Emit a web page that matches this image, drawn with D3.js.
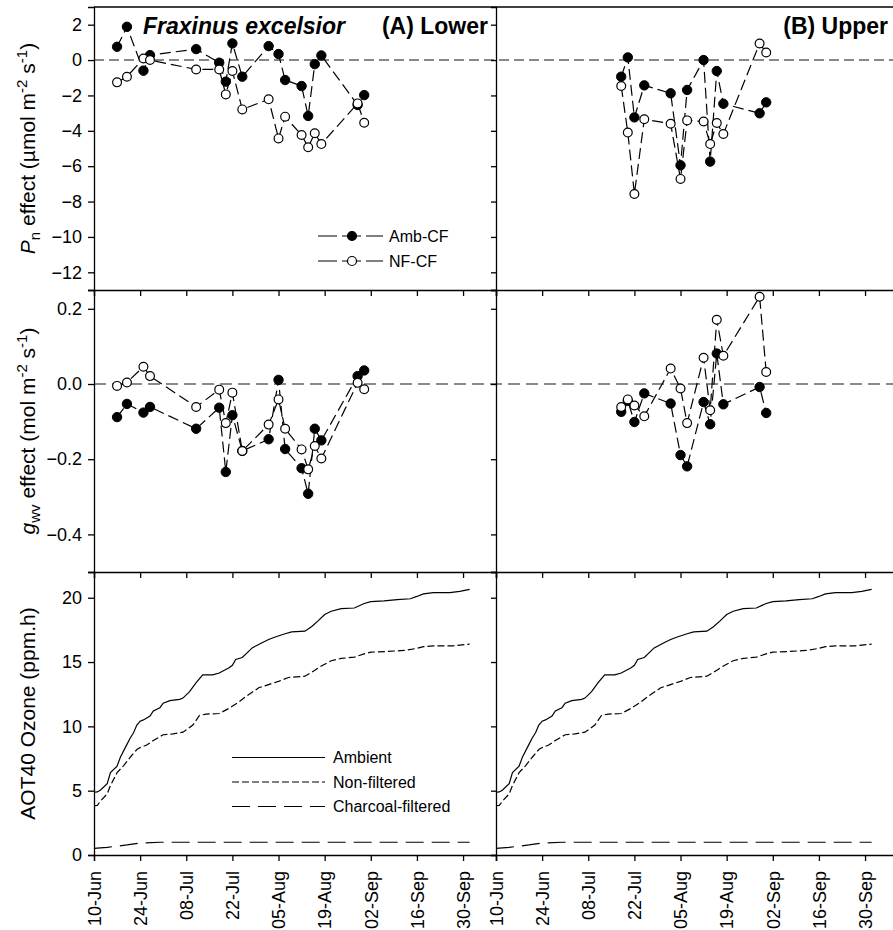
<!DOCTYPE html>
<html>
<head>
<meta charset="utf-8">
<script src="https://cdn.jsdelivr.net/npm/d3@7"></script>
<style>
  body { margin: 0; background: #fff; }
  svg { display: block; font-family: Arial, "Liberation Sans", sans-serif; }
</style>
</head>
<body>
<svg id="chart" width="893" height="930"></svg>
<script>
// ---- data ----
const seasonStart = "2009-06-10";
const seasonEnd = "2009-10-10";
const tickDates = ["06-10", "06-24", "07-08", "07-22", "08-05", "08-19", "09-02", "09-16", "09-30"];

// (A) lower canopy
const lowerDates = ["06-17", "06-20", "06-25", "06-27", "07-11", "07-18", "07-20", "07-22", "07-25",
  "08-02", "08-05", "08-07", "08-12", "08-14", "08-16", "08-18", "08-29", "08-31"];
const lowerPnAmb = [0.75, 1.88, -0.6, 0.28, 0.62, -0.15, -1.22, 0.94, -0.94, 0.79, 0.34, -1.13, -1.47, -3.16, -0.23, 0.26, -2.54, -1.98];
const lowerPnNF = [-1.26, -0.94, 0.09, 0.0, -0.53, -0.53, -1.94, -0.62, -2.79, -2.22, -4.43, -3.2, -4.24, -4.93, -4.14, -4.75, -2.45, -3.54];
const lowerGsAmb = [-0.088, -0.053, -0.076, -0.061, -0.119, -0.063, -0.234, -0.083, -0.178, -0.147, 0.011, -0.173, -0.224, -0.292, -0.119, -0.150, 0.021, 0.036];
const lowerGsNF = [-0.005, 0.004, 0.046, 0.021, -0.061, -0.015, -0.104, -0.023, -0.178, -0.108, -0.041, -0.119, -0.174, -0.227, -0.165, -0.198, 0.003, -0.014];

// (B) upper canopy
const upperDates = ["07-18", "07-20", "07-22", "07-25", "08-02", "08-05", "08-07", "08-12", "08-14", "08-16", "08-18", "08-29", "08-31"];
const upperPnAmb = [-0.94, 0.15, -3.24, -1.43, -1.88, -5.95, -1.69, 0.0, -5.74, -0.62, -2.47, -3.01, -2.39];
const upperPnNF = [-1.47, -4.1, -7.57, -3.35, -3.6, -6.72, -3.41, -3.47, -4.75, -3.56, -4.18, 0.94, 0.43];
const upperGsAmb = [-0.074, -0.045, -0.101, -0.025, -0.052, -0.189, -0.219, -0.048, -0.107, 0.081, -0.054, -0.008, -0.077];
const upperGsNF = [-0.061, -0.041, -0.057, -0.086, 0.041, -0.012, -0.104, 0.070, -0.070, 0.171, 0.075, 0.232, 0.032];

// cumulative AOT40 (days after 10-Jun, ppm.h)
const aotAmbDay = [0, 1, 2, 4, 5, 7, 8, 10, 11, 12, 13, 14, 15, 17, 18, 20, 21, 23, 26, 27, 29, 31, 33, 36, 38, 41, 42, 43, 45, 47, 48,
  51, 53, 55, 58, 60, 64, 66, 68, 70, 72, 75, 79, 82, 84, 88, 92, 96, 98, 100, 103, 108, 111, 114];
const aotAmb = [4.88, 4.9, 5.05, 5.55, 6.4, 6.9, 7.6, 8.6, 9.1, 9.5, 10.1, 10.4, 10.5, 10.8, 11.2, 11.45, 11.8, 12.0, 12.1, 12.2, 12.7,
  13.4, 14.0, 14.0, 14.15, 14.55, 14.75, 15.2, 15.35, 15.85, 16.1, 16.5, 16.75, 16.95, 17.2, 17.35, 17.4, 17.75, 18.2, 18.7, 18.95,
  19.15, 19.2, 19.55, 19.7, 19.75, 19.85, 19.92, 20.1, 20.3, 20.4, 20.4, 20.5, 20.65];
const aotNFDay = [0, 1, 2, 4, 5, 7, 9, 11, 13, 14, 16, 18, 21, 24, 27, 30, 32, 34, 38, 41, 44, 46, 50, 53, 56, 59, 64, 66, 69, 72,
  75, 79, 82, 84, 89, 94, 98, 100, 103, 109, 114];
const aotNF = [3.84, 3.85, 4.2, 4.75, 5.4, 6.4, 6.95, 7.6, 8.2, 8.35, 8.55, 8.9, 9.35, 9.42, 9.55, 10.1, 10.85, 10.95, 11.0, 11.4,
  11.9, 12.3, 13.0, 13.25, 13.5, 13.8, 13.9, 14.2, 14.7, 15.1, 15.28, 15.38, 15.64, 15.77, 15.82, 15.9, 16.06, 16.2, 16.26, 16.26, 16.4];
const aotCFDay = [0, 4, 10, 14, 20, 114];
const aotCF = [0.52, 0.6, 0.78, 0.93, 0.99, 0.99];

// ---- helpers ----
const parseDate = d3.utcParse("%Y-%m-%d");
const year = seasonStart.slice(0, 4);
const toDate = md => parseDate(`${year}-${md}`);
const start = parseDate(seasonStart);
const fromDay = d => d3.utcDay.offset(start, d);
const zip = (xs, ys) => xs.map((x, i) => ({ x, v: ys[i] }));

const svg = d3.select("#chart");
const W = 893;

// layout
const cols = [{ x0: 94, x1: 496 }, { x0: 496, x1: 898 }];
const rows = {
  pn: { y0: 7, y1: 290, domain: [-13, 3], ticks: [2, 0, -2, -4, -6, -8, -10, -12], fmt: d3.format("d") },
  gs: { y0: 290, y1: 572, domain: [-0.5, 0.25], ticks: [0.2, 0, -0.2, -0.4], fmt: d3.format(".1f") },
  aot: { y0: 572, y1: 855, domain: [0, 22], ticks: [0, 5, 10, 15, 20], fmt: d3.format("d") }
};

const xScales = cols.map(c => d3.scaleUtc().domain([start, parseDate(seasonEnd)]).range([c.x0, c.x1]));
const yScales = {};
for (const k in rows) yScales[k] = d3.scaleLinear().domain(rows[k].domain).range([rows[k].y1, rows[k].y0]);

const tickVals = tickDates.map(toDate);
const fmtTick = d3.utcFormat("%d-%b");

const plotG = svg.append("g").attr("class", "plots");
const axisG = svg.append("g").attr("class", "axes");

// zero reference lines
svg.insert("line", ".plots")
  .attr("x1", cols[0].x0).attr("x2", W)
  .attr("y1", yScales.pn(0)).attr("y2", yScales.pn(0))
  .attr("stroke", "#111").attr("stroke-width", 1.1).attr("stroke-dasharray", "10,5");
svg.insert("line", ".plots")
  .attr("x1", cols[0].x0).attr("x2", W)
  .attr("y1", yScales.gs(0)).attr("y2", yScales.gs(0))
  .attr("stroke", "#8a8a8a").attr("stroke-width", 2).attr("stroke-dasharray", "12,6");

// ---- scatter panels ----
function drawPoints(ci, rowKey, dates, amb, nf) {
  const x = xScales[ci], y = yScales[rowKey];
  const ambPts = zip(dates.map(toDate), amb);
  const nfPts = zip(dates.map(toDate), nf);
  const line = d3.line().x(d => x(d.x)).y(d => y(d.v));
  const g = plotG.append("g");

  [ambPts, nfPts].forEach(pts => {
    g.append("path").datum(pts)
      .attr("d", line)
      .attr("fill", "none").attr("stroke", "#000")
      .attr("stroke-width", 1.2).attr("stroke-dasharray", "11,5");
  });

  g.selectAll("circle.amb").data(ambPts).join("circle")
    .attr("class", "amb")
    .attr("cx", d => x(d.x)).attr("cy", d => y(d.v)).attr("r", 4.7)
    .attr("fill", "#000").attr("stroke", "#000").attr("stroke-width", 1);
  g.selectAll("circle.nf").data(nfPts).join("circle")
    .attr("class", "nf")
    .attr("cx", d => x(d.x)).attr("cy", d => y(d.v)).attr("r", 4.4)
    .attr("fill", "#fff").attr("stroke", "#000").attr("stroke-width", 1.2);
}

drawPoints(0, "pn", lowerDates, lowerPnAmb, lowerPnNF);
drawPoints(0, "gs", lowerDates, lowerGsAmb, lowerGsNF);
drawPoints(1, "pn", upperDates, upperPnAmb, upperPnNF);
drawPoints(1, "gs", upperDates, upperGsAmb, upperGsNF);

// ---- AOT40 curves (same record in both columns) ----
const aotSeries = [
  { pts: zip(aotAmbDay.map(fromDay), aotAmb), dash: null },
  { pts: zip(aotNFDay.map(fromDay), aotNF), dash: "7,3" },
  { pts: zip(aotCFDay.map(fromDay), aotCF), dash: "18,8" }
];
cols.forEach((c, ci) => {
  const x = xScales[ci], y = yScales.aot;
  const line = d3.line().x(d => x(d.x)).y(d => y(d.v));
  aotSeries.forEach(s => {
    plotG.append("path").datum(s.pts)
      .attr("d", line)
      .attr("fill", "none").attr("stroke", "#000").attr("stroke-width", 1.2)
      .attr("stroke-dasharray", s.dash);
  });
});

// ---- axes ----
cols.forEach((c, ci) => {
  Object.keys(rows).forEach(k => {
    const r = rows[k];
    const yAx = d3.axisLeft(yScales[k]).tickValues(r.ticks).tickSizeOuter(0)
      .tickSize(ci === 0 ? 6 : 5).tickPadding(6)
      .tickFormat(ci === 0 ? r.fmt : "");
    const ga = axisG.append("g").attr("transform", `translate(${c.x0},0)`).call(yAx);
    ga.selectAll("text").attr("font-size", 18).attr("fill", "#000").attr("font-family", "Arial, 'Liberation Sans', sans-serif");

    const xAx = d3.axisBottom(xScales[ci]).tickValues(tickVals).tickSizeOuter(0).tickSize(6)
      .tickFormat(k === "aot" ? fmtTick : "");
    const gx = axisG.append("g").attr("transform", `translate(0,${r.y1})`).call(xAx);
    if (k === "aot") {
      gx.selectAll("text")
        .attr("transform", "rotate(-90)")
        .attr("x", -16).attr("y", 0).attr("dy", "0.35em")
        .attr("text-anchor", "end")
        .attr("font-size", 18).attr("fill", "#000")
        .attr("font-family", "Arial, 'Liberation Sans', sans-serif");
    }
  });
});
axisG.selectAll(".domain, .tick line").attr("stroke", "#000").attr("stroke-width", 1.3);

// top frame line
axisG.append("line").attr("x1", cols[0].x0).attr("x2", W).attr("y1", rows.pn.y0).attr("y2", rows.pn.y0)
  .attr("stroke", "#000").attr("stroke-width", 1.3);

// ---- titles ----
svg.append("text").attr("x", 143).attr("y", 34)
  .attr("font-size", 23).attr("font-weight", "bold").attr("font-style", "italic")
  .text("Fraxinus excelsior");
svg.append("text").attr("x", 488).attr("y", 34).attr("text-anchor", "end")
  .attr("font-size", 23).attr("font-weight", "bold").text("(A) Lower");
svg.append("text").attr("x", 888).attr("y", 34).attr("text-anchor", "end")
  .attr("font-size", 23).attr("font-weight", "bold").text("(B) Upper");

// rotated y-axis titles with sub/superscripts
function richLabel(cy, parts) {
  const t = svg.append("text")
    .attr("transform", `translate(35,${cy}) rotate(-90)`)
    .attr("text-anchor", "middle").attr("font-size", 21);
  let shift = 0;
  parts.forEach(p => {
    const target = p.sub ? 5 : p.sup ? -8 : 0;
    const ts = t.append("tspan").text(p.t).attr("dy", target - shift);
    shift = target;
    if (p.sub || p.sup) ts.attr("font-size", 15);
    if (p.it) ts.attr("font-style", "italic");
  });
}
richLabel((rows.pn.y0 + rows.pn.y1) / 2, [
  { t: "P", it: true }, { t: "n", sub: true }, { t: " effect (µmol m" }, { t: "-2", sup: true },
  { t: " s" }, { t: "-1", sup: true }, { t: ")" }
]);
richLabel((rows.gs.y0 + rows.gs.y1) / 2, [
  { t: "g", it: true }, { t: "wv", sub: true }, { t: " effect (mol m" }, { t: "-2", sup: true },
  { t: " s" }, { t: "-1", sup: true }, { t: ")" }
]);
richLabel((rows.aot.y0 + rows.aot.y1) / 2, [{ t: "AOT40 Ozone (ppm.h)" }]);

// ---- legends ----
const legTop = [
  { name: "Amb-CF", fill: "#000", y: 236 },
  { name: "NF-CF", fill: "#fff", y: 261 }
];
legTop.forEach(l => {
  svg.append("line").attr("x1", 318).attr("x2", 383).attr("y1", l.y).attr("y2", l.y)
    .attr("stroke", "#000").attr("stroke-width", 1.2).attr("stroke-dasharray", "19,5");
  svg.append("circle").attr("cx", 352).attr("cy", l.y).attr("r", 4.5)
    .attr("fill", l.fill).attr("stroke", "#000").attr("stroke-width", 1.2);
  svg.append("text").attr("x", 389).attr("y", l.y).attr("dy", "0.35em")
    .attr("font-size", 16).text(l.name);
});

const legBottom = [
  { name: "Ambient", dash: null, y: 757.5 },
  { name: "Non-filtered", dash: "7,3", y: 782 },
  { name: "Charcoal-filtered", dash: "18,8", y: 806.5 }
];
legBottom.forEach(l => {
  svg.append("line").attr("x1", 232).attr("x2", 325).attr("y1", l.y).attr("y2", l.y)
    .attr("stroke", "#000").attr("stroke-width", 1.2).attr("stroke-dasharray", l.dash);
  svg.append("text").attr("x", 333).attr("y", l.y).attr("dy", "0.35em")
    .attr("font-size", 16).text(l.name);
});
</script>
</body>
</html>
